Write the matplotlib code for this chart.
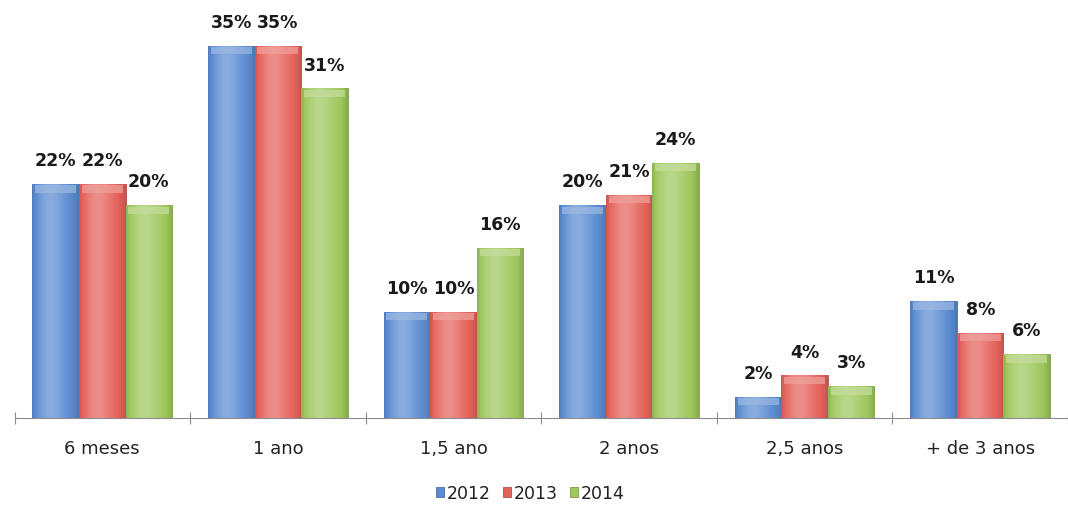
import numpy as np
import matplotlib.pyplot as plt
from matplotlib.colors import to_rgb

categories = ['6 meses', '1 ano', '1,5 ano', '2 anos', '2,5 anos', '+ de 3 anos']
years = ['2012', '2013', '2014']
v2012 = [22, 35, 10, 20, 2, 11]
v2013 = [22, 35, 10, 21, 4, 8]
v2014 = [20, 31, 16, 24, 3, 6]

colors = ['#5a8bd0', '#e5625b', '#9ec75c']


def shade(c, f):
    # f < 0 darkens, f > 0 lightens
    r = np.array(to_rgb(c))
    if f < 0:
        return r * (1 + f)
    return r + (1 - r) * f


def gradient_bar(ax, bar, color):
    x0, y0 = bar.get_x(), bar.get_y()
    w, h = bar.get_width(), bar.get_height()
    t = np.linspace(0, 1, 64)
    # darker edges, lighter middle-left
    prof = 0.28 * np.exp(-((t - 0.4) / 0.3) ** 2) - 0.15 * (np.abs(t - 0.5) * 2) ** 4
    img = np.array([[shade(color, p) for p in prof]])
    im = ax.imshow(img, extent=(x0, x0 + w, y0, y0 + h), aspect='auto',
                   interpolation='bilinear', zorder=2)
    im.set_clip_path(bar)
    # bevelled top edge
    cap = min(0.8, h * 0.5)
    ax.fill_between([x0 + w * 0.06, x0 + w * 0.94], y0 + h - cap, y0 + h - cap * 0.15,
                    color=shade(color, 0.4), lw=0, zorder=3, alpha=0.7)


fig = plt.figure(figsize=(10.68, 5.10), dpi=100)
left = 14.5
step = 177.1
ax = fig.add_axes([left / 1068, 91 / 510, 1 - left / 1068, 404 / 510])

x = np.arange(len(categories))
bw = 0.265
for i, (vals, c) in enumerate(zip([v2012, v2013, v2014], colors)):
    bars = ax.bar(x + (i - 1) * bw, vals, bw, color=c, edgecolor=shade(c, -0.2),
                  linewidth=0.6, zorder=1, label=years[i])
    for b, v in zip(bars, vals):
        gradient_bar(ax, b, c)
        ax.text(b.get_x() + bw / 2, v + 1.4, f'{v}%', ha='center', va='bottom',
                fontsize=12.5, fontweight='bold', color='#1a1a1a')

ax.set_xlim(-0.5, (1068 - left) / step - 0.5)
ax.set_ylim(0, 38)
ax.set_yticks([])
for s in ['top', 'right', 'left']:
    ax.spines[s].set_visible(False)
ax.spines['bottom'].set_color('#8c8c8c')
ax.set_xticks(np.arange(-0.5, 6, 1))
ax.set_xticklabels([])
ax.set_xticks(x, minor=True)
ax.set_xticklabels(categories, minor=True, fontsize=13, color='#222222')
ax.tick_params(axis='x', which='major', direction='inout', length=9, color='#8c8c8c')
ax.tick_params(axis='x', which='minor', length=0, pad=15)

leg = fig.legend(loc='center', bbox_to_anchor=(530 / 1068, 1 - 494 / 510), ncol=3,
                 frameon=False, fontsize=12.5, handlelength=0.5, handleheight=0.5,
                 handletextpad=0.12, columnspacing=0.7)
for t in leg.get_texts():
    t.set_color('#222222')

fig.savefig('out.png', dpi=100, facecolor='white')
